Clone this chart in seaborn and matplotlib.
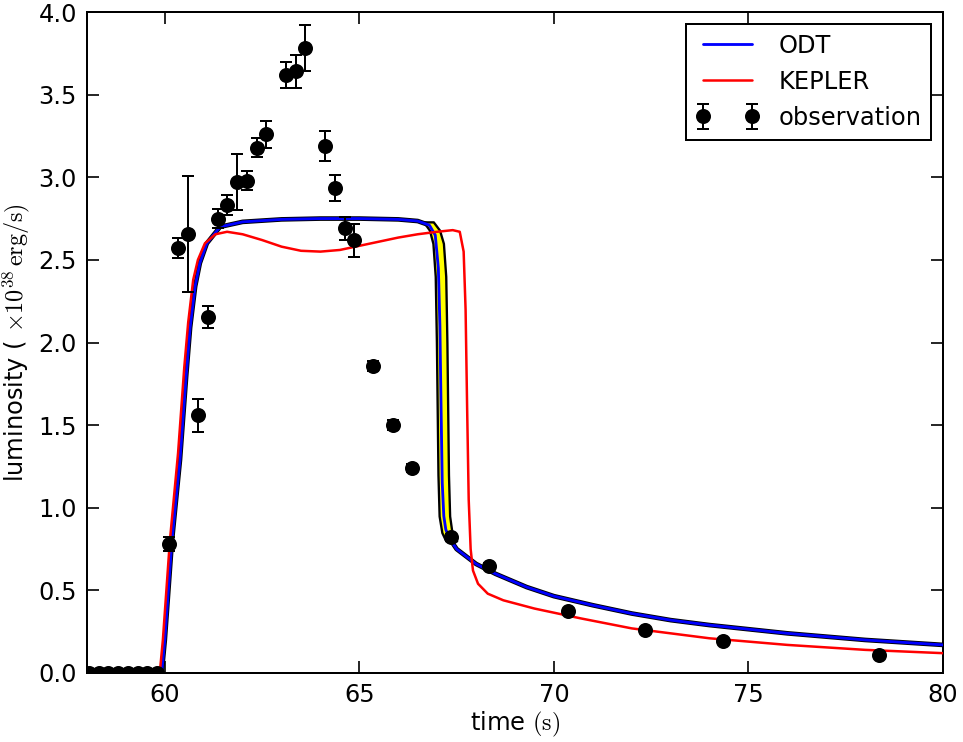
import numpy as np
import pandas as pd
import matplotlib
matplotlib.use('Agg')
import matplotlib.pyplot as plt
import seaborn as sns

# observation (time, luminosity, error)
obs_t = [58.05, 58.3, 58.55, 58.8, 59.05, 59.3, 59.55, 59.8,
         60.1, 60.34, 60.6, 60.85, 61.11, 61.37, 61.6, 61.86, 62.11, 62.37, 62.6,
         63.12, 63.37, 63.6, 64.12, 64.38, 64.63, 64.86,
         65.35, 65.87, 66.35, 67.36, 68.33, 70.37, 72.35, 74.35, 78.36]
obs_l = [0.0, 0.0, 0.0, 0.0, 0.0, 0.0, 0.0, 0.0,
         0.78, 2.57, 2.655, 1.56, 2.155, 2.75, 2.83, 2.97, 2.98, 3.18, 3.26,
         3.62, 3.64, 3.78, 3.19, 2.935, 2.69, 2.62,
         1.86, 1.50, 1.24, 0.82, 0.65, 0.375, 0.26, 0.195, 0.11]
obs_err = [0.01, 0.01, 0.01, 0.01, 0.01, 0.01, 0.01, 0.01,
           0.04, 0.06, 0.35, 0.10, 0.065, 0.06, 0.06, 0.17, 0.06, 0.06, 0.08,
           0.08, 0.10, 0.14, 0.09, 0.08, 0.07, 0.10,
           0.03, 0.03, 0.025, 0.02, 0.015, 0.01, 0.01, 0.01, 0.01]

# ODT model
odt_t = [58.0, 59.92, 60.0, 60.18, 60.39, 60.55, 60.65, 60.78, 60.9, 61.08, 61.42, 62.0,
         63.0, 64.0, 65.0, 66.0, 66.5, 66.8, 66.95, 67.03, 67.07, 67.1, 67.13, 67.17,
         67.22, 67.3, 67.5, 68.0, 68.5, 69.0, 69.3, 70.0, 71.0, 72.0, 73.0, 74.0,
         75.0, 76.0, 77.0, 78.0, 79.0, 80.0]
odt_l = [0.0, 0.0, 0.2, 0.79, 1.29, 1.8, 2.09, 2.34, 2.48, 2.6, 2.7, 2.73,
         2.745, 2.75, 2.75, 2.745, 2.735, 2.71, 2.65, 2.45, 2.1, 1.6, 1.15, 0.95,
         0.87, 0.82, 0.75, 0.66, 0.6, 0.55, 0.52, 0.465, 0.41, 0.36, 0.32, 0.29,
         0.265, 0.24, 0.22, 0.2, 0.185, 0.17]

# KEPLER model
kep_t = [58.0, 59.87, 59.95, 60.13, 60.34, 60.5, 60.6, 60.73, 60.85, 61.03, 61.3, 61.6,
         62.0, 62.5, 63.0, 63.5, 64.0, 64.5, 65.0, 65.5, 66.0, 66.5, 67.0, 67.4,
         67.58, 67.68, 67.73, 67.77, 67.81, 67.86, 67.92, 68.05, 68.3, 68.7, 69.5,
         70.0, 70.7, 72.0, 73.0, 74.0, 75.0, 76.0, 77.0, 78.0, 79.0, 80.0]
kep_l = [0.0, 0.0, 0.2, 0.8, 1.33, 1.85, 2.12, 2.38, 2.5, 2.6, 2.655, 2.67,
         2.655, 2.62, 2.58, 2.555, 2.55, 2.56, 2.585, 2.61, 2.635, 2.655, 2.67, 2.68,
         2.67, 2.55, 2.2, 1.6, 1.05, 0.75, 0.62, 0.54, 0.48, 0.44, 0.39,
         0.365, 0.33, 0.27, 0.24, 0.21, 0.19, 0.17, 0.155, 0.14, 0.13, 0.12]

# ODT ensemble spread during the drop
band_l = [0.80, 0.85, 0.95, 1.2, 1.6, 2.0, 2.4, 2.6, 2.68, 2.73]
band_left = [67.22, 67.12, 67.05, 67.02, 67.0, 66.98, 66.95, 66.89, 66.8, 66.65]
band_right = [67.5, 67.38, 67.32, 67.29, 67.27, 67.25, 67.22, 67.16, 67.06, 66.9]

sns.set_style('ticks')
plt.rcParams['font.family'] = ['DejaVu Sans']
plt.rcParams['mathtext.fontset'] = 'cm'
plt.rcParams['xtick.direction'] = 'in'
plt.rcParams['ytick.direction'] = 'in'
plt.rcParams['text.color'] = 'black'
plt.rcParams['axes.labelcolor'] = 'black'

fs = 14.5
fig = plt.figure(figsize=(963 / 120, 742 / 120), dpi=120)
ax = fig.add_axes([87 / 963, 1 - 673 / 742, 856 / 963, 661 / 742])

odt = pd.DataFrame({'time': odt_t, 'lum': odt_l})
kep = pd.DataFrame({'time': kep_t, 'lum': kep_l})

ax.plot(odt['time'], odt['lum'], color='black', lw=2.8, zorder=2)
ax.fill_betweenx(band_l, band_left, band_right, facecolor='yellow', edgecolor='black', lw=1.4, zorder=3)
sns.lineplot(data=odt, x='time', y='lum', color='blue', lw=1.7, sort=False, label='ODT', ax=ax, zorder=4)
sns.lineplot(data=kep, x='time', y='lum', color='red', lw=1.5, sort=False, label='KEPLER', ax=ax, zorder=5)
ax.errorbar(obs_t, obs_l, yerr=obs_err, fmt='o', color='black', ms=8, capsize=3.5,
            elinewidth=1.2, capthick=1.2, label='observation', zorder=6)

ax.set_xlim(58, 80)
ax.set_ylim(0, 4.0)
ax.set_xticks([60, 65, 70, 75, 80])
ax.set_yticks(np.arange(0, 4.01, 0.5))
ax.set_yticklabels(['%.1f' % v for v in np.arange(0, 4.01, 0.5)])
ax.tick_params(top=True, right=True, labelsize=fs, length=7, width=1, pad=6, colors='black')
for s in ax.spines.values():
    s.set_color('black')
    s.set_linewidth(1.2)
ax.set_xlabel('time $(\\mathrm{s})$', fontsize=fs, labelpad=2, color='black')
ax.set_ylabel('luminosity ( $\\times10^{38}\\,\\mathrm{erg/s})$', fontsize=fs, labelpad=4, color='black')

leg = ax.legend(loc='upper right', numpoints=2, fontsize=fs, fancybox=False, frameon=True,
                borderaxespad=0.5, handlelength=2.6, framealpha=1)
leg.get_frame().set_edgecolor('black')
leg.get_frame().set_linewidth(1.2)
for t in leg.get_texts():
    t.set_color('black')

plt.savefig('out.png', dpi=120)
